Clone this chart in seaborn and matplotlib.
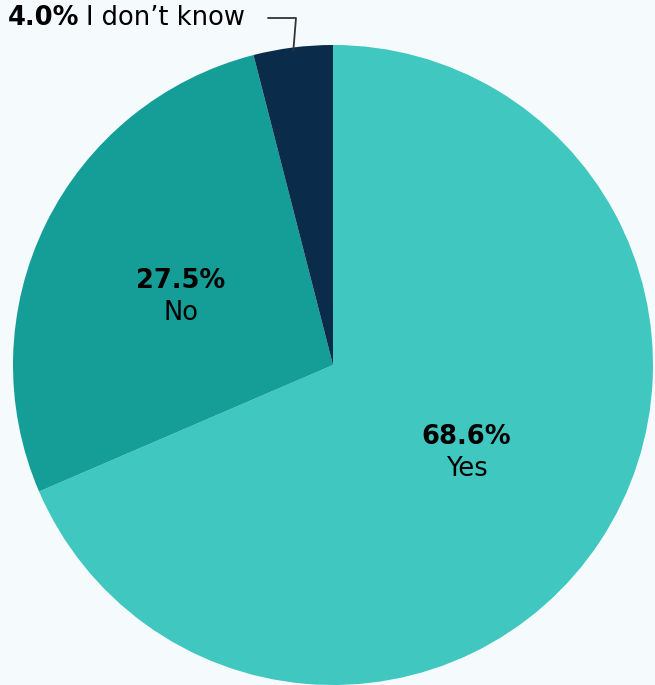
import numpy as np
import matplotlib.pyplot as plt
import seaborn as sns

categories = ["Yes", "No", "I don\u2019t know"]
shares = [68.6, 27.5, 4.0]
colors = ["#40c7c0", "#159e97", "#0b2b4b"]

sns.set_theme(style="white")
plt.rcParams['font.family'] = ['DejaVu Sans']

bg = "#f5fafd"
fig = plt.figure(figsize=(6.55, 6.85), dpi=100, facecolor=bg)
W, H = 655, 685
cx, cy, r = 333, 685 - 365, 320
ax = fig.add_axes([(cx - r) / W, (cy - r) / H, 2 * r / W, 2 * r / H])
ax.set_facecolor(bg)

wedges, _ = ax.pie(shares, colors=colors, startangle=90, counterclock=False,
                   radius=1.0, wedgeprops=dict(linewidth=0))
ax.set_xlim(-1, 1)
ax.set_ylim(-1, 1)
ax.set_aspect('equal')
ax.axis('off')

fs = 18.5
# inside labels for the two large slices
for w, cat, val, dist, dy in zip(wedges[:2], categories[:2], shares[:2],
                                 [0.5, 0.53], [0.0, -0.022]):
    ang = np.deg2rad((w.theta1 + w.theta2) / 2)
    x, y = dist * np.cos(ang), dist * np.sin(ang) + dy
    ax.text(x, y + 0.05, f"{val:.1f}%", ha='center', va='center',
            fontsize=fs, fontweight='bold', color='black')
    ax.text(x, y - 0.05, cat, ha='center', va='center', fontsize=fs, color='black')

# small slice: outside label with leader line
w = wedges[2]
ang = np.deg2rad((w.theta1 + w.theta2) / 2)
px, py = np.cos(ang), np.sin(ang)
lab_y = (685 - 18 - cy) / r
t1 = fig.text(8 / W, 1 - 18 / H, f"{shares[2]:.1f}%", ha='left', va='center',
              fontsize=fs, fontweight='bold', color='black')
fig.canvas.draw()
ext = t1.get_window_extent()
fig.text((ext.x1 + 7) / W, 1 - 18 / H, categories[2], ha='left', va='center',
         fontsize=fs, color='black')
ax.plot([(268 - cx) / r, (296 - cx) / r, px * 0.99], [lab_y, lab_y, py * 0.99],
        color='#333333', lw=1.3, clip_on=False)

fig.savefig("out.png", dpi=100, facecolor=bg)
